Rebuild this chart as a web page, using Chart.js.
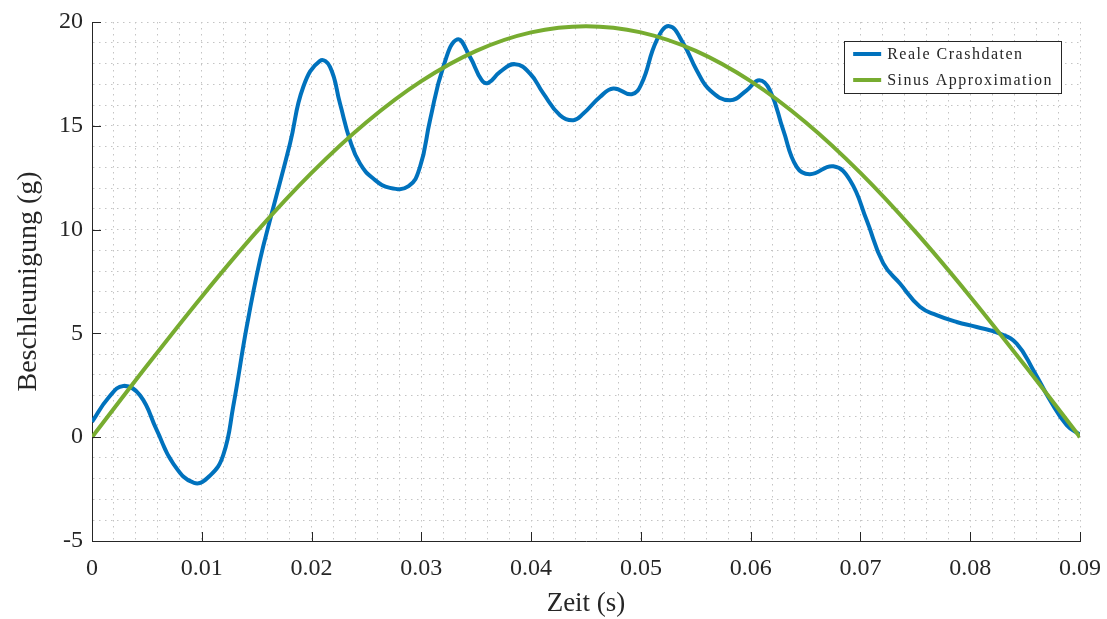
<!DOCTYPE html>
<html>
<head>
<meta charset="utf-8">
<script src="https://cdn.jsdelivr.net/npm/chart.js@4/dist/chart.umd.min.js"></script>
<style>
  body { margin: 0; background: #fff; }
  canvas { display: block; }
</style>
</head>
<body>
<canvas id="myChart" width="1107" height="619"></canvas>
<script>
const crashTime = [0, 0.0015, 0.00285, 0.00437, 0.0059, 0.0074, 0.0093, 0.01075, 0.01196, 0.01287, 0.01409, 0.0153, 0.01637, 0.01804, 0.01925, 0.02077, 0.02168, 0.02259, 0.0235, 0.02441, 0.02562, 0.02714, 0.02884, 0.02988, 0.03079, 0.032, 0.03328, 0.03443, 0.0355, 0.0361, 0.03717, 0.03853, 0.0399, 0.04111, 0.04263, 0.04385, 0.04476, 0.04627, 0.04749, 0.04916, 0.05007, 0.05144, 0.05259, 0.05387, 0.05508, 0.0563, 0.05812, 0.05964, 0.06079, 0.06176, 0.06297, 0.06419, 0.0654, 0.06753, 0.06905, 0.07057, 0.07208, 0.0736, 0.07542, 0.07694, 0.07876, 0.08059, 0.08271, 0.08423, 0.08575, 0.08727, 0.08879, 0.09];
const crashAccel = [0.74, 1.9, 2.47, 2.02, 0.34, -1.27, -2.2, -1.85, -0.85, 1.5, 5.31, 8.53, 10.77, 14.15, 16.88, 18.13, 17.84, 16.07, 14.3, 13.18, 12.46, 12.01, 12.09, 13.02, 15.27, 17.84, 19.16, 18.32, 17.2, 17.07, 17.6, 17.97, 17.52, 16.56, 15.51, 15.27, 15.59, 16.39, 16.8, 16.52, 17.04, 19.12, 19.8, 18.96, 17.68, 16.71, 16.23, 16.71, 17.2, 16.71, 14.79, 13.02, 12.67, 13.05, 12.38, 10.45, 8.37, 7.4, 6.28, 5.88, 5.55, 5.31, 4.99, 4.51, 3.23, 1.78, 0.58, 0.12];

const sinusTime = [0, 0.005, 0.01, 0.015, 0.02, 0.025, 0.03, 0.035, 0.04, 0.045, 0.05, 0.055, 0.06, 0.065, 0.07, 0.075, 0.08, 0.085, 0.09];
const sinusAccel = [0, 3.44, 6.77, 9.9, 12.73, 15.17, 17.15, 18.61, 19.5, 19.8, 19.5, 18.61, 17.15, 15.17, 12.73, 9.9, 6.77, 3.44, 0];

const xTickLabels = ["0", "0.01", "0.02", "0.03", "0.04", "0.05", "0.06", "0.07", "0.08", "0.09"];
const yTickLabels = ["-5", "0", "5", "10", "15", "20"];
const legendLabels = ["Reale Crashdaten", "Sinus Approximation"];

const blue = "#0072BD";
const green = "#77AC30";
const axisColor = "#262626";
const gridColor = "#c4c4c4";
const serif = "'Liberation Serif', 'Times New Roman', serif";

const toPoints = (xs, ys) => xs.map((x, i) => ({ x, y: ys[i] }));

const noScalePadding = (scale) => {
  scale.paddingLeft = 0;
  scale.paddingRight = 0;
  scale.paddingTop = 0;
  scale.paddingBottom = 0;
};

// inward tick marks like matlab, only on major ticks
const tickMarks = {
  id: "tickMarks",
  afterDraw: (chart) => {
    const { ctx, chartArea, scales } = chart;
    ctx.save();
    ctx.strokeStyle = axisColor;
    ctx.lineWidth = 1;
    ctx.beginPath();
    xTickLabels.forEach((l) => {
      const px = Math.round(scales.x.getPixelForValue(Number(l))) + 0.5;
      ctx.moveTo(px, chartArea.bottom);
      ctx.lineTo(px, chartArea.bottom - 9);
    });
    yTickLabels.forEach((l) => {
      const py = Math.round(scales.y.getPixelForValue(Number(l))) + 0.5;
      ctx.moveTo(chartArea.left, py);
      ctx.lineTo(chartArea.left + 9, py);
    });
    ctx.stroke();
    ctx.restore();
  },
};

const boxLegend = {
  id: "boxLegend",
  afterDraw: (chart) => {
    const { ctx, chartArea } = chart;
    const colors = [blue, green];
    ctx.save();
    ctx.font = "16px " + serif;
    ctx.letterSpacing = "1.5px";
    const textW = Math.max(...legendLabels.map((l) => ctx.measureText(l).width));
    const w = 9 + 28 + 6 + textW + 8;
    const h = 52;
    const right = chartArea.right - 19;
    const left = right - w;
    const top = chartArea.top + 19;
    ctx.fillStyle = "#fff";
    ctx.fillRect(left, top, w, h);
    ctx.strokeStyle = axisColor;
    ctx.lineWidth = 1;
    ctx.strokeRect(Math.round(left) + 0.5, top + 0.5, Math.round(w), h);
    legendLabels.forEach((l, i) => {
      const cy = top + 13 + i * 26;
      ctx.strokeStyle = colors[i];
      ctx.lineWidth = 4;
      ctx.beginPath();
      ctx.moveTo(left + 9, cy);
      ctx.lineTo(left + 37, cy);
      ctx.stroke();
      ctx.fillStyle = axisColor;
      ctx.textBaseline = "middle";
      ctx.fillText(l, left + 43, cy + 1);
    });
    ctx.restore();
  },
};

const config = {
  type: "line",
  data: {
    datasets: [
      {
        label: legendLabels[0],
        data: toPoints(crashTime, crashAccel),
        borderColor: blue,
        borderWidth: 4,
        pointRadius: 0,
        tension: 0.45,
        order: 1,
      },
      {
        label: legendLabels[1],
        data: toPoints(sinusTime, sinusAccel),
        borderColor: green,
        borderWidth: 4,
        pointRadius: 0,
        cubicInterpolationMode: "monotone",
        order: 0,
      },
    ],
  },
  options: {
    responsive: false,
    animation: false,
    layout: { padding: { left: 0, top: 22, right: 27, bottom: 0 } },
    plugins: { legend: { display: false }, tooltip: { enabled: false } },
    scales: {
      x: {
        type: "linear",
        min: 0,
        max: 0.09,
        afterFit: (scale) => {
          scale.height = 78;
          noScalePadding(scale);
        },
        ticks: {
          stepSize: 0.002,
          autoSkip: false,
          maxRotation: 0,
          padding: 13,
          color: axisColor,
          font: { family: serif, size: 24 },
          callback: (value) => {
            const k = Math.round(value * 1000);
            return k % 10 === 0 ? xTickLabels[k / 10] : "";
          },
        },
        grid: { color: gridColor, lineWidth: 1, drawTicks: false },
        border: { display: true, color: axisColor, width: 1, dash: [1.5, 4.5] },
        title: {
          display: true,
          text: "Zeit (s)",
          color: axisColor,
          font: { family: serif, size: 27, lineHeight: 1.15 },
          padding: { top: 0, bottom: 0 },
        },
      },
      y: {
        min: -5,
        max: 20,
        afterFit: (scale) => {
          scale.width = 92;
          noScalePadding(scale);
        },
        ticks: {
          stepSize: 1,
          autoSkip: false,
          padding: 9,
          color: axisColor,
          font: { family: serif, size: 24 },
          callback: (value) => {
            const v = Math.round(value);
            return v % 5 === 0 ? yTickLabels[(v + 5) / 5] : "";
          },
        },
        grid: { color: gridColor, lineWidth: 1, drawTicks: false },
        border: { display: true, color: axisColor, width: 1, dash: [1.5, 4.5] },
        title: {
          display: true,
          text: "Beschleunigung (g)",
          color: axisColor,
          font: { family: serif, size: 28 },
          padding: { top: 12, bottom: 0 },
        },
      },
    },
  },
  plugins: [tickMarks, boxLegend],
};

const myChart = new Chart(document.querySelector("#myChart"), config);
</script>
</body>
</html>
